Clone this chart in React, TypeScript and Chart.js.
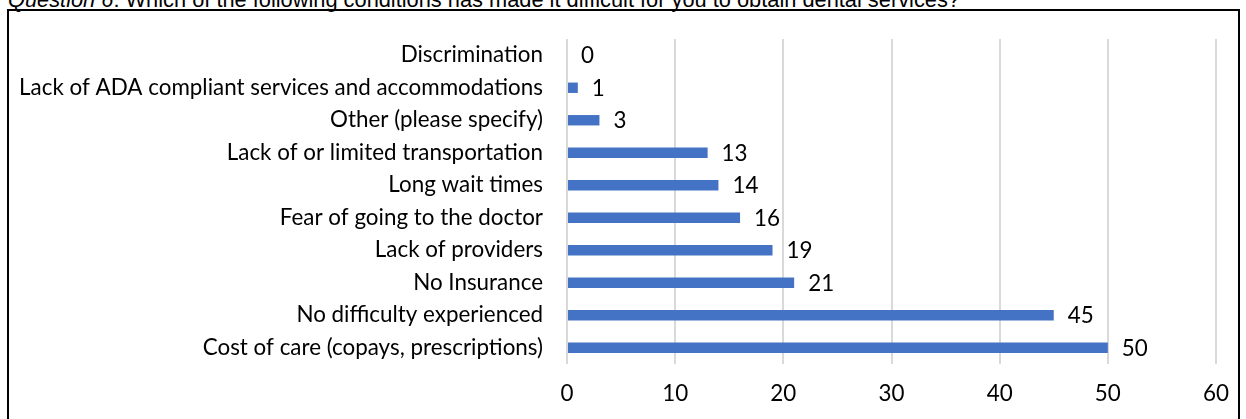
import React, { useEffect, useRef } from "react";
import { Chart, registerables } from "chart.js";

Chart.register(...registerables);

const categories = [
  "Discrimination",
  "Lack of ADA compliant services and accommodations",
  "Other (please specify)",
  "Lack of or limited transportation",
  "Long wait times",
  "Fear of going to the doctor",
  "Lack of providers",
  "No Insurance",
  "No difficulty experienced",
  "Cost of care (copays, prescriptions)",
];
const values = [0, 1, 3, 13, 14, 16, 19, 21, 45, 50];
const xTicks = [0, 10, 20, 30, 40, 50, 60];

const FONT = "Lato, 'Open Sans', sans-serif";
const FONT_SIZE = 22.4;
const BAR_COLOR = "#4472C4";

const dataLabelPlugin = {
  id: "dataLabels",
  afterDatasetsDraw(chart: any) {
    const ctx = chart.ctx;
    const meta = chart.getDatasetMeta(0);
    ctx.save();
    ctx.font = `${FONT_SIZE}px ${FONT}`;
    ctx.fillStyle = "#000";
    ctx.textAlign = "left";
    ctx.textBaseline = "middle";
    meta.data.forEach((el: any, i: number) => {
      ctx.fillText(String(values[i]), el.x + 14, el.y + 1);
    });
    ctx.restore();
  },
};

export default function App() {
  const ref = useRef<HTMLCanvasElement>(null);
  useEffect(() => {
    if (!ref.current) return;
    const chart = new Chart(ref.current, {
      type: "bar",
      data: {
        labels: categories,
        datasets: [
          {
            data: values,
            backgroundColor: BAR_COLOR,
            categoryPercentage: 0.32,
            barPercentage: 1,
          },
        ],
      },
      options: {
        indexAxis: "y",
        animation: false,
        responsive: false,
        devicePixelRatio: 1,
        layout: { padding: { left: 0, top: 39, right: 30, bottom: 0 } },
        plugins: { legend: { display: false }, tooltip: { enabled: false } },
        scales: {
          x: {
            min: 0,
            max: 60,
            afterBuildTicks: (scale: any) => {
              scale.ticks = xTicks.map((v) => ({ value: v }));
            },
            afterFit: (scale: any) => {
              scale.height = 55;
            },
            grid: { color: "#d9d9d9", lineWidth: 2, drawTicks: false },
            border: { display: false },
            ticks: {
              padding: 16,
              color: "#000",
              font: { family: FONT, size: FONT_SIZE },
            },
          },
          y: {
            afterFit: (scale: any) => {
              scale.width = 567;
            },
            grid: { display: false, drawTicks: false },
            border: { display: false },
            ticks: {
              padding: 24,
              color: "#000",
              font: { family: FONT, size: FONT_SIZE },
              autoSkip: false,
            },
          },
        },
      },
      plugins: [dataLabelPlugin],
    });
    return () => chart.destroy();
  }, []);

  return (
    <div
      style={{
        position: "fixed",
        left: 0,
        top: 0,
        width: 1246,
        height: 419,
        background: "#fff",
        overflow: "hidden",
      }}
    >
      <div
        style={{
          position: "absolute",
          left: 8,
          top: -11,
          fontFamily: "'Liberation Sans', Arial, sans-serif",
          fontSize: 21.8,
          lineHeight: "22px",
          whiteSpace: "nowrap",
          color: "#000",
        }}
      >
        <i>Question 6</i>: Which of the following conditions has made it difficult for you to obtain dental services?
      </div>
      <div
        style={{
          position: "absolute",
          left: 7,
          top: 9,
          width: 1229,
          height: 430,
          border: "2px solid #000",
        }}
      />
      <canvas
        ref={ref}
        width={1246}
        height={419}
        style={{ position: "absolute", left: 0, top: 0, width: 1246, height: 419 }}
      />
    </div>
  );
}
